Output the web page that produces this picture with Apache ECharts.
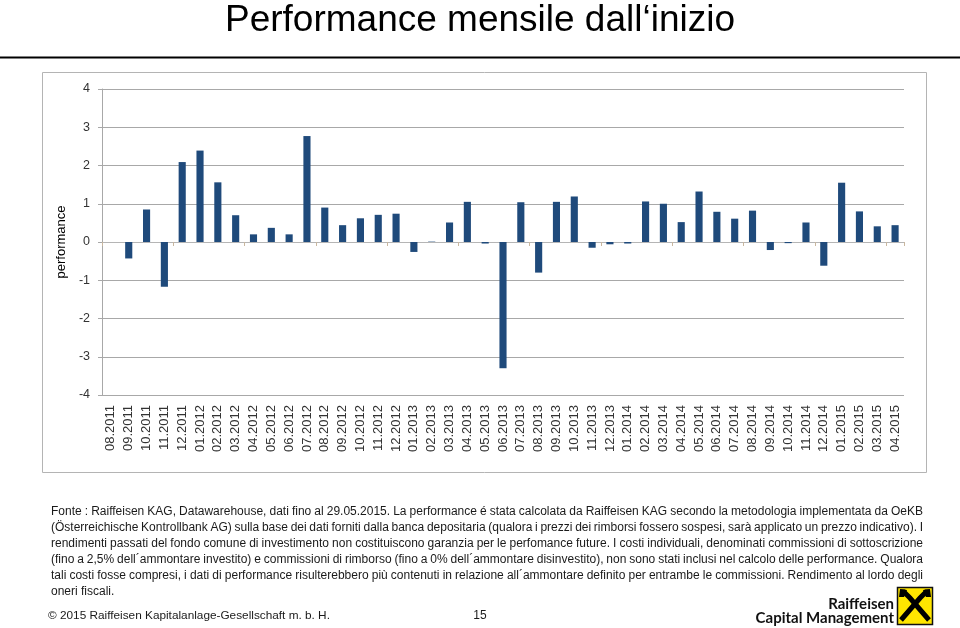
<!DOCTYPE html>
<html><head><meta charset="utf-8">
<script src="https://cdn.jsdelivr.net/npm/echarts@6/dist/echarts.min.js"></script>
<style>html,body{margin:0;padding:0;background:#fff}#c{width:960px;height:628px}</style>
</head><body><div id="c"></div>
<script>
const months = [
  '08.2011','09.2011','10.2011','11.2011','12.2011',
  '01.2012','02.2012','03.2012','04.2012','05.2012','06.2012','07.2012','08.2012','09.2012','10.2012','11.2012','12.2012',
  '01.2013','02.2013','03.2013','04.2013','05.2013','06.2013','07.2013','08.2013','09.2013','10.2013','11.2013','12.2013',
  '01.2014','02.2014','03.2014','04.2014','05.2014','06.2014','07.2014','08.2014','09.2014','10.2014','11.2014','12.2014',
  '01.2015','02.2015','03.2015','04.2015'
];
const performance = [
  0, -0.43, 0.85, -1.17, 2.09,
  2.39, 1.56, 0.70, 0.20, 0.37, 0.20, 2.77, 0.90, 0.44, 0.62, 0.71, 0.74,
  -0.26, 0.01, 0.51, 1.05, -0.04, -3.30, 1.04, -0.80, 1.05, 1.19, -0.15, -0.06,
  -0.04, 1.06, 1.00, 0.52, 1.32, 0.79, 0.61, 0.82, -0.21, -0.03, 0.51, -0.62,
  1.55, 0.80, 0.41, 0.44
];
const titleText = 'Performance mensile dall\u2018inizio';
const yAxisName = 'performance';
const footerLines = [
  'Fonte : Raiffeisen KAG, Datawarehouse, dati fino al 29.05.2015. La performance é stata calcolata da Raiffeisen KAG secondo la metodologia implementata da OeKB',
  '(Österreichische Kontrollbank AG) sulla base dei dati forniti dalla banca depositaria (qualora i prezzi dei rimborsi fossero sospesi, sarà applicato un prezzo indicativo). I',
  'rendimenti passati del fondo comune di investimento non costituiscono garanzia per le perfomance future. I costi individuali, denominati commissioni di sottoscrizione',
  '(fino a 2,5% dell´ammontare investito) e commissioni di rimborso (fino a 0% dell´ammontare disinvestito), non sono stati inclusi nel calcolo delle performance. Qualora',
  'tali costi fosse compresi, i dati di performance risulterebbero più contenuti in relazione all´ammontare definito per entrambe le commissioni. Rendimento al lordo degli',
  'oneri fiscali.'
];
const copyrightText = '© 2015 Raiffeisen Kapitalanlage-Gesellschaft m. b. H.';
const pageNumber = '15';
const logoLines = ['Raiffeisen', 'Capital Management'];

const FONT = "'Liberation Sans', Arial, Helvetica, sans-serif";
const chart = echarts.init(document.getElementById('c'), null, {renderer: 'canvas'});

// footer, justified word by word
const ctx = document.createElement('canvas').getContext('2d');
const fSize = 12;
ctx.font = fSize + "px 'Liberation Sans'";
const txtLeft = 51, txtRight = 923;
const graphics = [];
graphics.push({type: 'line', shape: {x1: 0, y1: 57.5, x2: 960, y2: 57.5}, style: {stroke: '#000', lineWidth: 2}});
graphics.push({type: 'rect', shape: {x: 42.5, y: 72.5, width: 884, height: 400}, style: {fill: 'none', stroke: '#b4b4b4', lineWidth: 1}, z: -1});
footerLines.forEach((line, i) => {
  const y = 512 + i * 16;
  const last = i === footerLines.length - 1;
  const words = line.split(' ');
  const widths = words.map(w => ctx.measureText(w).width);
  const total = widths.reduce((a, b) => a + b, 0);
  const gap = last ? ctx.measureText(' ').width : (txtRight - txtLeft - total) / (words.length - 1);
  let x = txtLeft;
  words.forEach((w, j) => {
    graphics.push({type: 'text', x: x, y: y, style: {text: w, font: fSize + 'px ' + FONT, fill: '#1a1a1a', textAlign: 'left', textVerticalAlign: 'middle'}});
    x += widths[j] + gap;
  });
});
graphics.push({type: 'text', x: 48, y: 616, style: {text: copyrightText, font: '11.8px ' + FONT, fill: '#1a1a1a', textAlign: 'left', textVerticalAlign: 'middle'}});
graphics.push({type: 'text', x: 480, y: 616, style: {text: pageNumber, font: '12px ' + FONT, fill: '#1a1a1a', textAlign: 'center', textVerticalAlign: 'middle'}});
graphics.push({type: 'text', x: 894, y: 604, style: {text: logoLines[0], font: 'bold 15px Lato, sans-serif', fill: '#111', textAlign: 'right', textVerticalAlign: 'middle'}});
graphics.push({type: 'text', x: 894, y: 618, style: {text: logoLines[1], font: 'bold 15px Lato, sans-serif', fill: '#111', textAlign: 'right', textVerticalAlign: 'middle'}});
// logo square
graphics.push({type: 'rect', shape: {x: 897.5, y: 587.5, width: 35, height: 37}, style: {fill: '#ffe600', stroke: '#111', lineWidth: 1.5}});
graphics.push({type: 'polyline', shape: {points: [[901, 620], [920, 598], [926, 592], [929, 592]]}, style: {stroke: '#000', lineWidth: 5, fill: 'none'}});
graphics.push({type: 'polyline', shape: {points: [[929, 620], [910, 598], [904, 592], [901, 592]]}, style: {stroke: '#000', lineWidth: 5, fill: 'none'}});
graphics.push({type: 'polygon', shape: {points: [[923, 590], [930, 589], [931, 597], [926, 597]]}, style: {fill: '#000'}});
graphics.push({type: 'polygon', shape: {points: [[907, 590], [900, 589], [899, 597], [904, 597]]}, style: {fill: '#000'}});

const option = {
  backgroundColor: '#fff',
  animation: false,
  title: {
    text: titleText, left: 'center', top: -3,
    textStyle: {fontFamily: FONT, fontSize: 37, fontWeight: 'normal', color: '#000'}
  },
  grid: {left: 102, right: 56, top: 89, bottom: 233, containLabel: false},
  xAxis: [
    {
      type: 'category', data: months, position: 'bottom',
      axisLine: {show: false, onZero: false},
      axisTick: {show: false},
      axisLabel: {rotate: 90, margin: 10, fontSize: 13, color: '#333', fontFamily: FONT, interval: 0}
    },
    {
      type: 'category', data: months, position: 'bottom',
      axisLine: {show: true, onZero: true, lineStyle: {color: '#b5b5b5', width: 1}},
      axisTick: {show: true, length: 4, lineStyle: {color: '#c9b79f'}},
      axisLabel: {show: false}
    }
  ],
  yAxis: {
    type: 'value', min: -4, max: 4, interval: 1,
    name: yAxisName, nameLocation: 'middle', nameRotate: 90, nameGap: 29,
    nameTextStyle: {fontFamily: FONT, fontSize: 13, color: '#000'},
    axisLine: {show: true, lineStyle: {color: '#a8a8a8'}},
    axisTick: {show: true, length: 4, lineStyle: {color: '#a8a8a8'}},
    axisLabel: {fontSize: 12.5, color: '#333', fontFamily: FONT, margin: 12},
    splitLine: {show: true, lineStyle: {color: '#a8a8a8', width: 1}}
  },
  series: [{
    type: 'bar', xAxisIndex: 0, data: performance, barWidth: '40%',
    itemStyle: {color: '#1f4a7b'}
  }],
  graphic: graphics
};
chart.setOption(option);
</script></body></html>
